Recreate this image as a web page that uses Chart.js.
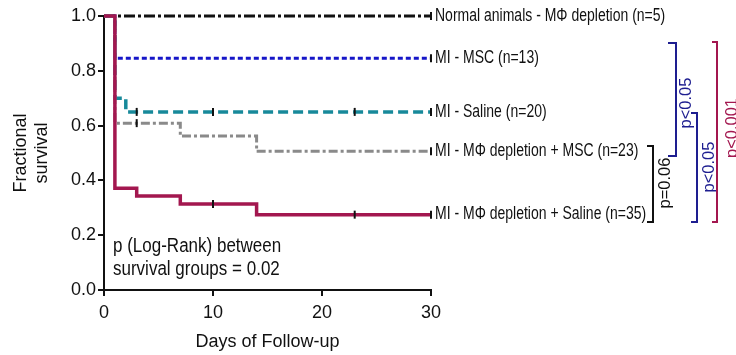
<!DOCTYPE html>
<html><head><meta charset="utf-8">
<script src="https://cdn.jsdelivr.net/npm/chart.js@4"></script>
<style>html,body{margin:0;padding:0;background:#fff;} canvas{display:block;}</style>
</head><body>
<canvas id="c" width="736" height="355"></canvas>
<script>
// ---- data ----
const seriesNames = [
  "Normal animals - M\u03A6 depletion (n=5)",
  "MI - MSC (n=13)",
  "MI - Saline (n=20)",
  "MI - M\u03A6 depletion + MSC (n=23)",
  "MI - M\u03A6 depletion + Saline (n=35)"
];
const normalDays = [0, 30];
const normalSurv = [1.0, 1.0];
const mscDays = [0, 1, 30];
const mscSurv = [1.0, 0.846, 0.846];
const salineDays = [0, 1, 2, 30];
const salineSurv = [1.0, 0.70, 0.65, 0.65];
const mphMscDays = [0, 1, 7, 14, 30];
const mphMscSurv = [1.0, 0.609, 0.562, 0.506, 0.506];
const mphSalDays = [0, 1, 3, 7, 14, 30];
const mphSalSurv = [1.0, 0.371, 0.343, 0.314, 0.275, 0.275];
// censoring days
const censorNormal = [30];
const censorMsc = [30];
const censorSaline = [3, 10, 23, 30];
const censorMphMsc = [3, 30];
const censorMphSal = [10, 23, 30];
const xTickValues = [0, 10, 20, 30];
const yTickValues = [0.0, 0.2, 0.4, 0.6, 0.8, 1.0];
const logRankText = ["p (Log-Rank) between", "survival groups = 0.02"];
const pairTests = ["p=0.06", "p<0.05", "p<0.05", "p<0.001"];

// ---- helpers ----
const FONT = "'Liberation Sans', Arial, sans-serif";
function pts(days, surv) { return days.map((d, i) => ({x: d, y: surv[i]})); }
function survAt(days, surv, t) {
  let v = surv[0];
  for (let i = 0; i < days.length; i++) if (days[i] <= t) v = surv[i];
  return v;
}
function censorPts(cdays, days, surv) { return cdays.map(d => ({x: d, y: survAt(days, surv, d)})); }

const series = [
  {days: normalDays, surv: normalSurv, cens: censorNormal, color: '#111111', dash: [11, 3, 3, 3], width: 3},
  {days: mscDays, surv: mscSurv, cens: censorMsc, color: '#1616C8', dash: [5, 3], width: 3},
  {days: salineDays, surv: salineSurv, cens: censorSaline, color: '#17899A', dash: [10, 5], width: 3.5},
  {days: mphMscDays, surv: mphMscSurv, cens: censorMphMsc, color: '#8A8A8A', dash: [9, 3, 3, 3], width: 3},
  {days: mphSalDays, surv: mphSalSurv, cens: censorMphSal, color: '#A3174F', dash: [], width: 3.5}
];

const datasets = [];
series.forEach((s, i) => {
  datasets.push({
    label: seriesNames[i],
    data: pts(s.days, s.surv),
    borderColor: s.color,
    borderWidth: s.width,
    borderDash: s.dash,
    borderCapStyle: 'butt',
    stepped: 'before',
    pointRadius: 0,
    fill: false,
    clip: false,
    order: i === 4 ? 1 : 6 - i
  });
});
series.forEach((s, i) => {
  datasets.push({
    label: 'censor ' + i,
    data: censorPts(s.cens, s.days, s.surv),
    showLine: false,
    pointStyle: 'line',
    rotation: 90,
    pointRadius: 4,
    borderColor: '#111',
    borderWidth: 2,
    backgroundColor: '#111',
    clip: false,
    order: 0
  });
});

function drawText(ctx, text, x, y, sx, rot) {
  ctx.save();
  ctx.translate(x, y);
  if (rot) ctx.rotate(rot);
  ctx.scale(sx, 1);
  ctx.fillText(text, 0, 0);
  ctx.restore();
}

const overlay = {
  id: 'overlay',
  afterDraw(chart) {
    const ctx = chart.ctx, ca = chart.chartArea, ys = chart.scales.y;
    ctx.save();
    ctx.fillStyle = '#111';
    ctx.textBaseline = 'middle';
    ctx.textAlign = 'left';
    // series labels at the right end of each curve
    ctx.font = "17.5px " + FONT;
    series.forEach((s, i) => {
      const y = ys.getPixelForValue(s.surv[s.surv.length - 1]);
      drawText(ctx, seriesNames[i], ca.right + 4, y, 0.8, 0);
    });
    // log-rank text
    ctx.font = "20px " + FONT;
    drawText(ctx, logRankText[0], ca.left + 9, 246, 0.85, 0);
    drawText(ctx, logRankText[1], ca.left + 9, 269, 0.85, 0);
    // brackets
    const brackets = [
      {x: 653, top: 146, bottom: 222, arm: 6, color: '#111', tx: 665, ty: 183, text: pairTests[0]},
      {x: 676, top: 43, bottom: 156, arm: 8, color: '#1E1E90', tx: 686, ty: 103, text: pairTests[1]},
      {x: 697, top: 113, bottom: 222, arm: 6, color: '#1E1E90', tx: 709, ty: 167, text: pairTests[2]},
      {x: 717, top: 42, bottom: 222, arm: 5, color: '#A3174F', tx: 732, ty: 128, text: pairTests[3]}
    ];
    brackets.forEach(b => {
      ctx.strokeStyle = b.color;
      ctx.lineWidth = 2;
      ctx.beginPath();
      ctx.moveTo(b.x - b.arm, b.top);
      ctx.lineTo(b.x, b.top);
      ctx.lineTo(b.x, b.bottom);
      ctx.lineTo(b.x - b.arm, b.bottom);
      ctx.stroke();
      ctx.fillStyle = b.color;
      ctx.font = "16.5px " + FONT;
      ctx.textAlign = 'center';
      drawText(ctx, b.text, b.tx, b.ty, 1, -Math.PI / 2);
    });
    ctx.restore();
  }
};

new Chart(document.getElementById('c'), {
  type: 'line',
  data: {datasets},
  options: {
    responsive: false,
    devicePixelRatio: 1,
    animation: false,
    layout: {padding: {left: 0, right: 305, top: 16, bottom: 0}},
    plugins: {legend: {display: false}, tooltip: {enabled: false}},
    scales: {
      x: {
        type: 'linear', min: 0, max: 30,
        afterBuildTicks: s => { s.ticks = xTickValues.map(v => ({value: v})); },
        afterFit: s => { s.height = 65; },
        grid: {drawOnChartArea: false, drawTicks: true, tickLength: 6, color: '#111', lineWidth: 2},
        border: {display: true, color: '#111', width: 2},
        ticks: {color: '#111', font: {family: FONT, size: 18}, padding: 6, maxRotation: 0},
        title: {display: true, text: 'Days of Follow-up', color: '#111', font: {family: FONT, size: 18, lineHeight: 1.2}, padding: {top: 0, bottom: 2}}
      },
      y: {
        type: 'linear', min: 0, max: 1,
        afterBuildTicks: s => { s.ticks = yTickValues.map(v => ({value: v})); },
        afterFit: s => { s.width = 104; },
        grid: {drawOnChartArea: false, drawTicks: true, tickLength: 6, color: '#111', lineWidth: 2},
        border: {display: true, color: '#111', width: 2},
        ticks: {color: '#111', font: {family: FONT, size: 18}, padding: 2, callback: v => v.toFixed(1)},
        title: {display: true, text: ['Fractional', 'survival'], color: '#111', font: {family: FONT, size: 18, lineHeight: 1.2}, padding: {top: 10, bottom: 0}}
      }
    }
  },
  plugins: [overlay]
});
</script>
</body></html>
